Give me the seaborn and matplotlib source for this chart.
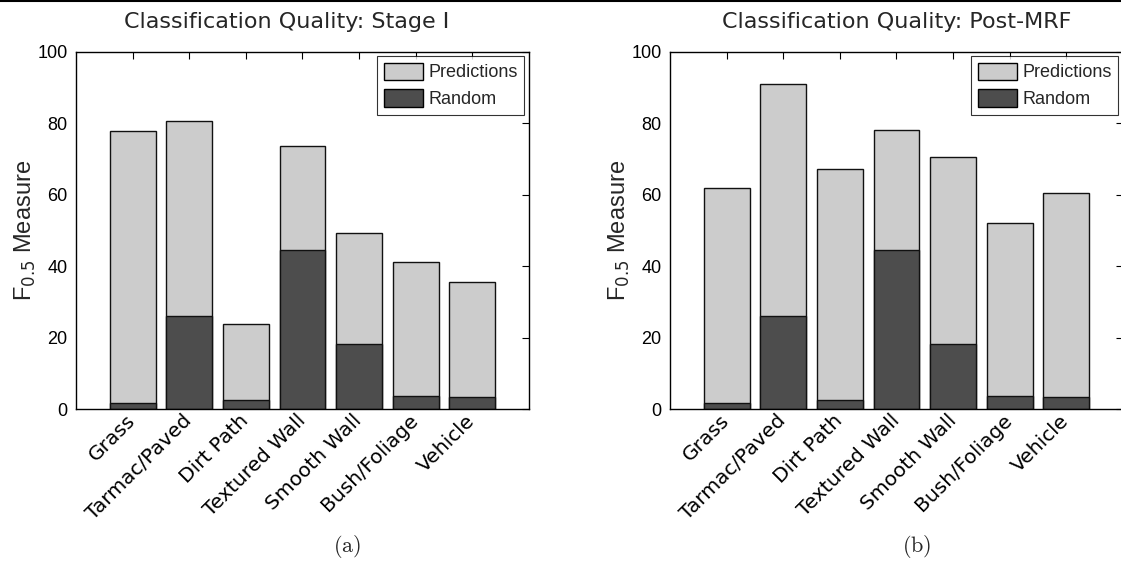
import matplotlib
matplotlib.use("Agg")
import matplotlib.pyplot as plt
import seaborn as sns
import pandas as pd
from matplotlib.lines import Line2D
from matplotlib.patches import Patch

## Data
categories = ["Grass", "Tarmac/Paved", "Dirt Path", "Textured Wall",
              "Smooth Wall", "Bush/Foliage", "Vehicle"]
stage1_pred = [77.9, 80.7, 23.9, 73.7, 49.2, 41.1, 35.5]
postmrf_pred = [61.8, 91.0, 67.2, 78.0, 70.5, 52.0, 60.6]
random_base = [1.7, 26.0, 2.5, 44.6, 18.3, 3.6, 3.4]
titles = ["Classification Quality: Stage I", "Classification Quality: Post-MRF"]
captions = ["(a)", "(b)"]
yticks = [0, 20, 40, 60, 80, 100]

sns.set_style("white")
plt.rcParams["font.family"] = ["Liberation Sans", "DejaVu Sans"]
plt.rcParams["mathtext.fontset"] = "cm"

light = "#cccccc"
dark = "#4d4d4d"

fig = plt.figure(figsize=(11.21, 5.68), dpi=100)
ax1 = fig.add_axes([0.0678, 0.2794, 0.404, 0.6296])
ax2 = fig.add_axes([0.5977, 0.2794, 0.404, 0.6296])

cap_x = [0.3096, 0.818]
title_x = [0.464, 0.5]

for ax, pred, title, cap, cx, tx in zip([ax1, ax2], [stage1_pred, postmrf_pred],
                                        titles, captions, cap_x, title_x):
    df = pd.DataFrame({"cls": categories, "pred": pred, "rand": random_base})
    sns.barplot(data=df, x="cls", y="pred", color=light, width=0.81,
                edgecolor="#111111", linewidth=1, saturation=1, ax=ax)
    sns.barplot(data=df, x="cls", y="rand", color=dark, width=0.81,
                edgecolor="#111111", linewidth=1, saturation=1, ax=ax)
    ax.set_xlim(-1, 7)
    ax.set_ylim(0, 100)
    ax.set_yticks(yticks)
    ax.set_yticklabels([str(t) for t in yticks], fontsize=13)
    ax.set_xticks(range(len(categories)))
    ax.set_xticklabels(categories, rotation=45, ha="right", va="center",
                       rotation_mode="anchor", fontsize=14.5,
                       family="DejaVu Sans")
    ax.tick_params(direction="in", top=True, right=True, length=5, width=0.8,
                   pad=6, colors="black")
    for s in ax.spines.values():
        s.set_visible(True)
        s.set_color("black")
        s.set_linewidth(1)
    ax.set_xlabel("")
    ax.set_ylabel(r"F$_{0.5}$ Measure", fontsize=17, math_fontfamily="dejavusans")
    ax.yaxis.set_label_coords(-0.085, 0.5)
    ax.set_title(title, fontsize=16, family="DejaVu Sans", pad=17, x=tx)
    handles = [Patch(facecolor=light, edgecolor="black"),
               Patch(facecolor=dark, edgecolor="black")]
    leg = ax.legend(handles, ["Predictions", "Random"], loc="upper right",
                    fontsize=13, frameon=True, fancybox=False,
                    handlelength=2.2, handleheight=1.1, borderpad=0.35,
                    handletextpad=0.3, labelspacing=0.45, borderaxespad=0.25)
    leg.get_frame().set_edgecolor("black")
    leg.get_frame().set_linewidth(0.8)
    fig.text(cx, 1 - 547 / 568, r"$\mathrm{" + cap + "}$",
             ha="center", va="center", fontsize=16)

# page rule at top
fig.add_artist(Line2D([0, 1], [0.998, 0.998], color="black", lw=1.5,
                      transform=fig.transFigure))

fig.savefig("out.png", dpi=100)
